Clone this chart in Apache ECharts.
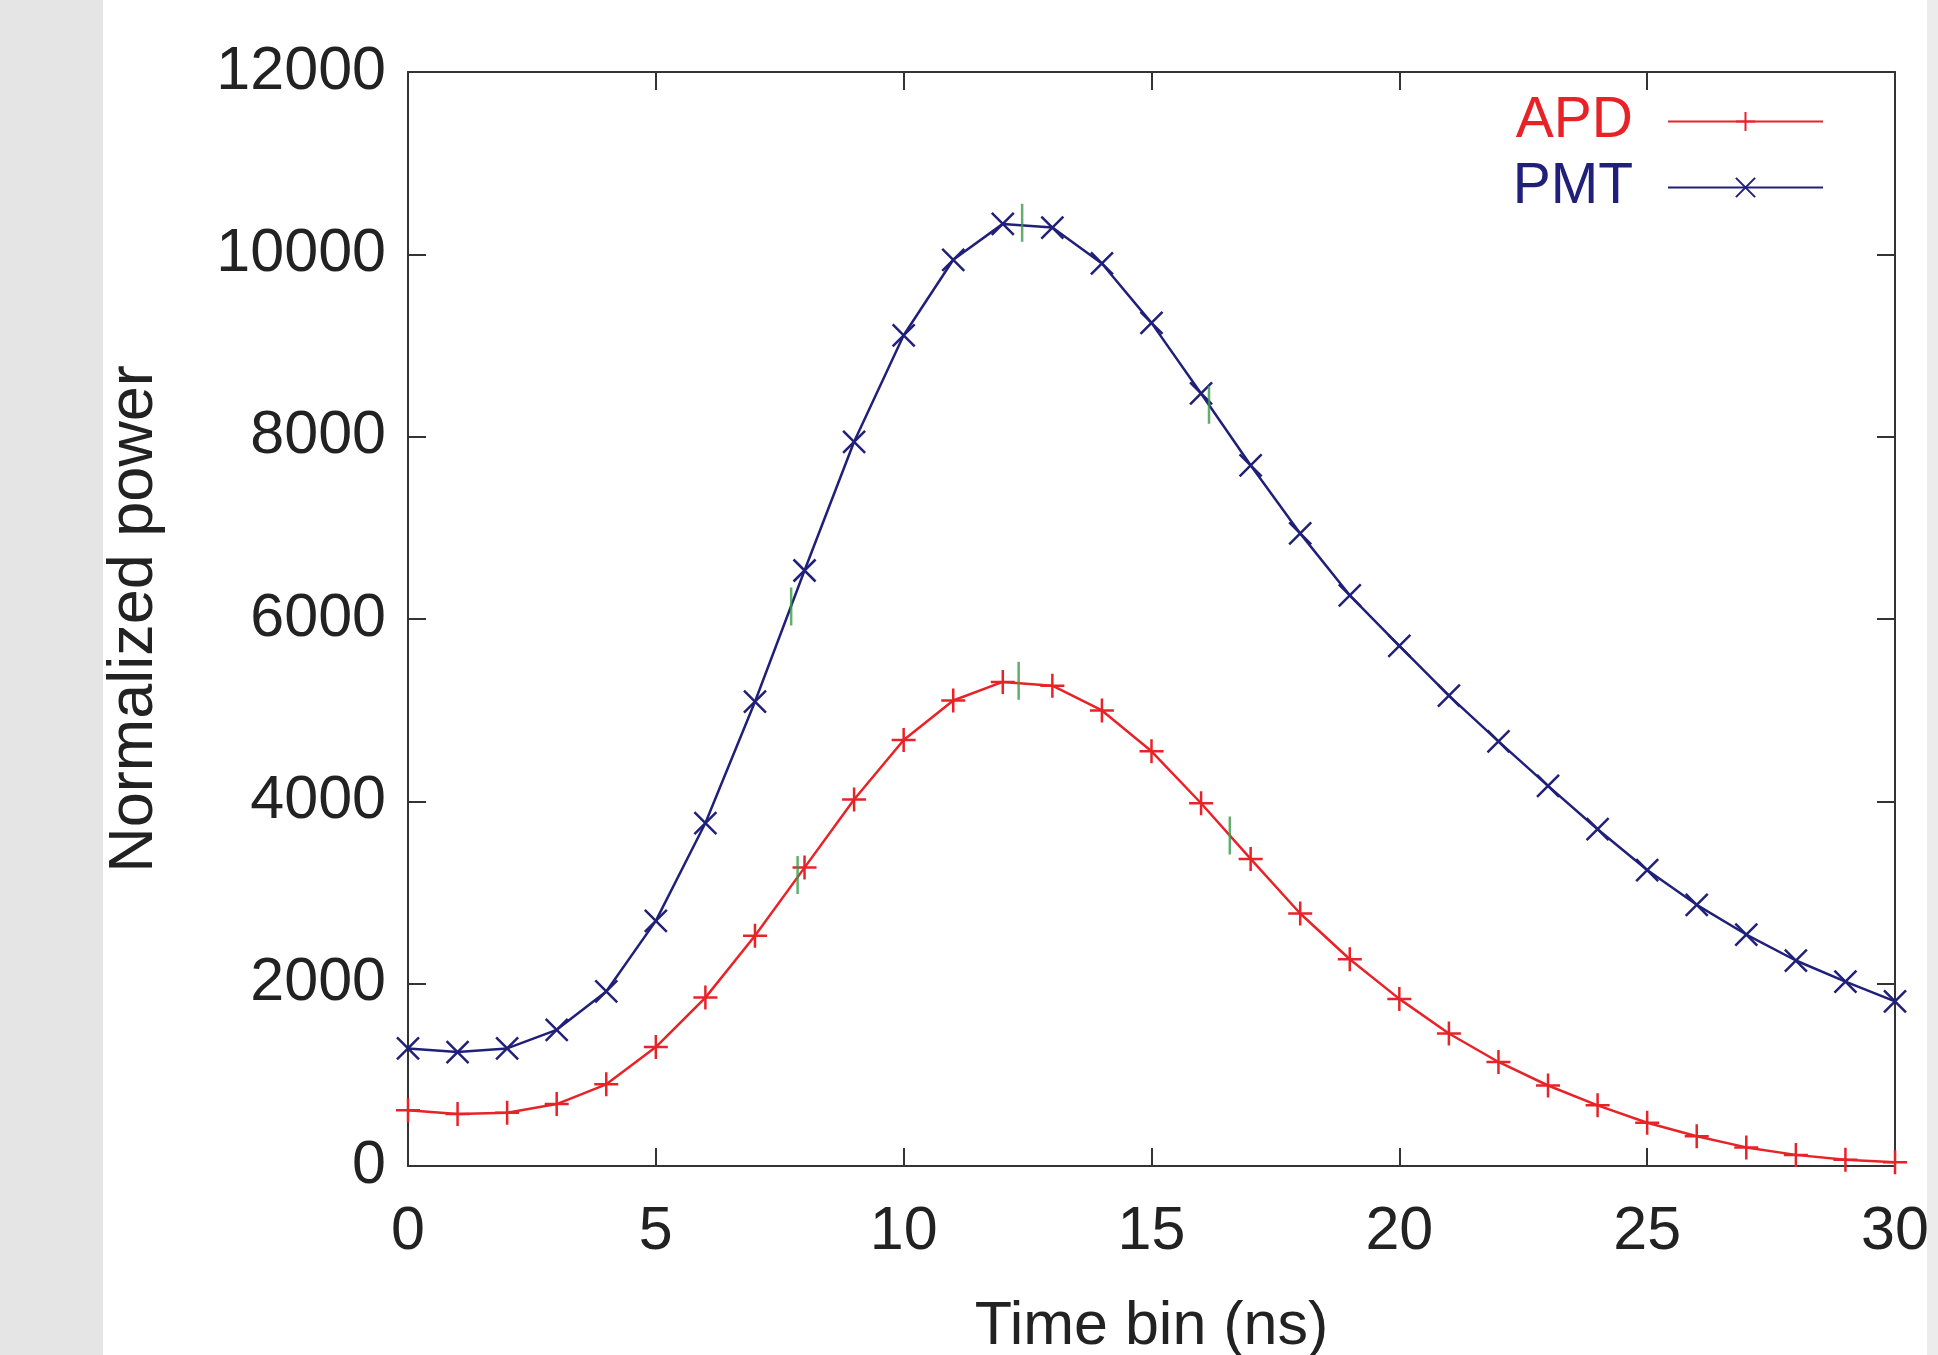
<!DOCTYPE html>
<html><head><meta charset="utf-8">
<script src="https://cdn.jsdelivr.net/npm/echarts@6/dist/echarts.min.js"></script>
<style>html,body{margin:0;padding:0;background:#fff}#c{width:1938px;height:1355px}</style>
</head><body><div id="c"></div>
<script>
const timeBins = [0,1,2,3,4,5,6,7,8,9,10,11,12,13,14,15,16,17,18,19,20,21,22,23,24,25,26,27,28,29,30];
const apd = [611,570,584,679,896,1304,1847,2526,3273,4020,4672,5106,5310,5269,4997,4549,3979,3368,2770,2268,1833,1453,1141,883,665,475,326,204,122,68,41];
const pmt = [1290,1250,1290,1494,1915,2689,3762,5093,6532,7944,9112,9940,10334,10294,9900,9248,8474,7686,6939,6260,5704,5160,4658,4169,3694,3246,2865,2539,2254,2023,1806];
const pmtMarksX = [7.73,12.39,16.16];
const pmtMarksY = [6137,10346,8350];
const apdMarksX = [7.86,12.32,16.58];
const apdMarksY = [3191,5322,3625];
const xTicks = [0,5,10,15,20,25,30];
const yTicks = [0,2000,4000,6000,8000,10000,12000];

const FONT = "'Liberation Sans',Arial,sans-serif";
const RED = '#e82328', BLUE = '#20207a', GREEN = '#3a9a4a', AX = '#333';
const plusSym = 'path://M10,0L10,20M0,10L20,10';
const crossSym = 'path://M0,0L20,20M20,0L0,20';

const chart = echarts.init(document.getElementById('c'));
const pair = (xs, ys) => xs.map((x, i) => [x, ys[i]]);
const axisCommon = () => ({
  type: 'value', min: 0,
  axisLine: {show: true, onZero: false, lineStyle: {color: AX, width: 2}},
  axisTick: {show: true, inside: true, length: 18, lineStyle: {color: AX, width: 2}},
  splitLine: {show: false}
});
chart.setOption({
  animation: false,
  backgroundColor: '#fff',
  graphic: [
    {type: 'rect', left: 0, top: 0, shape: {width: 103, height: 1355}, style: {fill: '#e5e5e5'}, z: -10},
    {type: 'rect', right: 0, top: 0, shape: {width: 11, height: 1355}, style: {fill: '#ececec'}, z: -10}
  ],
  grid: {left: 408, right: 43, top: 72, bottom: 189, containLabel: false, outerBoundsMode: 'none'},
  legend: {
    data: [{name: 'APD', textStyle: {color: RED}}, {name: 'PMT', textStyle: {color: BLUE}}],
    orient: 'vertical', right: 109, top: 88, align: 'right',
    itemWidth: 155, itemHeight: 24, itemGap: 9,
    textStyle: {fontFamily: FONT, fontSize: 57, padding: [0, 30, 0, 0]}
  },
  xAxis: [
    Object.assign(axisCommon(), {max: 30, interval: 5, position: 'bottom',
      axisLabel: {fontFamily: FONT, fontSize: 61, color: '#222', margin: 36, formatter: v => xTicks.includes(v) ? String(v) : ''},
      name: 'Time bin (ns)', nameLocation: 'middle', nameGap: 131,
      nameTextStyle: {fontFamily: FONT, fontSize: 61, color: '#222'}}),
    Object.assign(axisCommon(), {max: 30, interval: 5, position: 'top', axisLabel: {show: false}})
  ],
  yAxis: [
    Object.assign(axisCommon(), {max: 12000, interval: 2000, position: 'left',
      axisLabel: {fontFamily: FONT, fontSize: 61, color: '#222', margin: 22, formatter: v => yTicks.includes(v) ? String(v) : ''},
      name: 'Normalized power', nameLocation: 'middle', nameGap: 242,
      nameTextStyle: {fontFamily: FONT, fontSize: 63, color: '#222'}}),
    Object.assign(axisCommon(), {max: 12000, interval: 2000, position: 'right', axisLabel: {show: false}})
  ],
  series: [
    {name: 'APD', type: 'line', data: pair(timeBins, apd), symbol: plusSym, symbolSize: 24,
      showAllSymbol: true, lineStyle: {color: RED, width: 2.5},
      itemStyle: {color: 'rgba(0,0,0,0)', borderColor: RED, borderWidth: 2.5}, z: 3},
    {name: 'PMT', type: 'line', data: pair(timeBins, pmt), symbol: crossSym, symbolSize: 22,
      showAllSymbol: true, lineStyle: {color: BLUE, width: 2.5},
      itemStyle: {color: 'rgba(0,0,0,0)', borderColor: BLUE, borderWidth: 2.5}, z: 3},
    {name: 'marksPMT', type: 'scatter', data: pair(pmtMarksX, pmtMarksY), symbol: 'rect', symbolSize: [2.5, 38],
      itemStyle: {color: GREEN}, z: 4},
    {name: 'marksAPD', type: 'scatter', data: pair(apdMarksX, apdMarksY), symbol: 'rect', symbolSize: [2.5, 38],
      itemStyle: {color: GREEN}, z: 4}
  ]
});
</script></body></html>
